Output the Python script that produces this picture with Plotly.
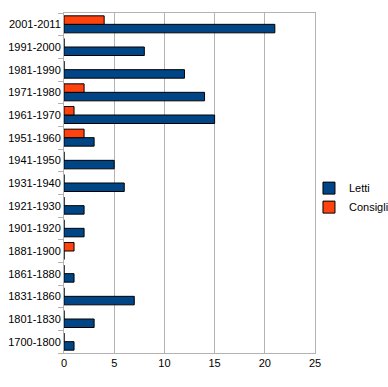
import plotly.graph_objects as go

categories = ["1700-1800", "1801-1830", "1831-1860", "1861-1880", "1881-1900",
              "1901-1920", "1921-1930", "1931-1940", "1941-1950", "1951-1960",
              "1961-1970", "1971-1980", "1981-1990", "1991-2000", "2001-2011"]
letti = [1, 3, 7, 1, 0, 2, 2, 6, 5, 3, 15, 14, 12, 8, 21]
consigli = [0, 0, 0, 0, 1, 0, 0, 0, 0, 2, 1, 2, 0, 0, 4]
x_ticks = [0, 5, 10, 15, 20, 25]

fig = go.Figure()
fig.add_trace(go.Bar(y=categories, x=letti, name="Letti", orientation="h",
                     marker=dict(color="#004586", line=dict(color="black", width=1))))
fig.add_trace(go.Bar(y=categories, x=consigli, name="Consigli", orientation="h",
                     marker=dict(color="#ff420e", line=dict(color="black", width=1))))

fig.update_layout(
    width=388, height=387,
    margin=dict(l=64, r=73, t=13, b=34, autoexpand=False),
    paper_bgcolor="white", plot_bgcolor="white",
    barmode="group", bargap=0.25, bargroupgap=0,
    font=dict(family="Liberation Sans, Arial, sans-serif", size=11, color="black"),
    legend=dict(x=0.976, xanchor="left", y=0.457, yanchor="middle",
                traceorder="normal", font=dict(size=11), itemwidth=30,
                bgcolor="rgba(0,0,0,0)"),
    showlegend=True,
)
fig.update_xaxes(range=[0, 25], tickvals=x_ticks, showgrid=True, gridcolor="#b3b3b3",
                 gridwidth=1, zeroline=False, showline=True, linecolor="#b3b3b3",
                 mirror=True, ticks="", tickfont=dict(size=11), automargin=False)
fig.update_yaxes(type="category", categoryorder="array", categoryarray=categories,
                 showgrid=False, showline=True, linecolor="#b3b3b3", mirror=True,
                 ticks="outside", tickson="boundaries", ticklen=5, tickcolor="#b3b3b3",
                 tickfont=dict(size=11), automargin=False)

fig.write_html("out.html", config={"displayModeBar": False},
               post_script="document.body.style.margin='0';document.body.style.overflow='hidden';")
